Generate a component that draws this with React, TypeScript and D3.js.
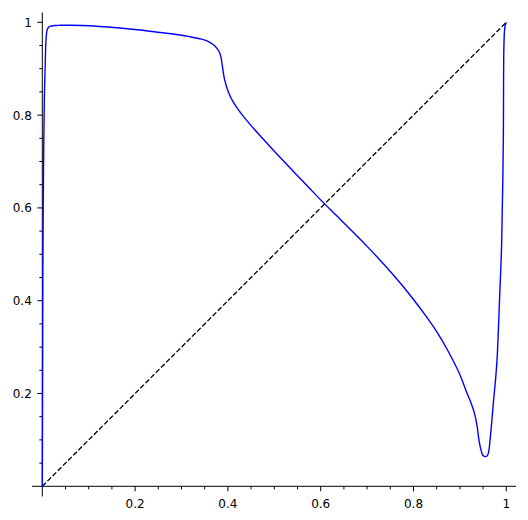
import React from "react";
import * as d3 from "d3";

const curveX = [0, 0.0004, 0.0008, 0.0012, 0.002, 0.003, 0.0045, 0.006, 0.008, 0.0101, 0.0123, 0.0166, 0.0274, 0.038, 0.06, 0.103, 0.124, 0.167, 0.21, 0.254, 0.297, 0.318, 0.34, 0.352, 0.362, 0.372, 0.381, 0.385, 0.388, 0.393, 0.401, 0.411, 0.422, 0.433, 0.45, 0.475, 0.5, 0.525, 0.55, 0.575, 0.6, 0.625, 0.65, 0.675, 0.7, 0.725, 0.75, 0.775, 0.8, 0.825, 0.85, 0.875, 0.9, 0.915, 0.925, 0.932, 0.937, 0.941, 0.945, 0.949, 0.954, 0.959, 0.962, 0.965, 0.969, 0.9727, 0.9767, 0.98, 0.986, 0.99, 0.9935, 0.995, 0.997, 1];
const curveY = [0, 0.15, 0.3, 0.45, 0.6, 0.72, 0.84, 0.9, 0.962, 0.982, 0.9877, 0.991, 0.9931, 0.9935, 0.9935, 0.9925, 0.991, 0.9877, 0.9834, 0.978, 0.9726, 0.969, 0.9645, 0.961, 0.956, 0.949, 0.937, 0.925, 0.906, 0.876, 0.85, 0.829, 0.8125, 0.7977, 0.7773, 0.7495, 0.7222, 0.6955, 0.6692, 0.6432, 0.6173, 0.5923, 0.5676, 0.5426, 0.5171, 0.4906, 0.4631, 0.4338, 0.4026, 0.3693, 0.3331, 0.2906, 0.2406, 0.2015, 0.177, 0.155, 0.13, 0.1, 0.08, 0.0675, 0.064, 0.066, 0.0746, 0.1, 0.143, 0.186, 0.229, 0.272, 0.417, 0.524, 0.74, 0.955, 0.99, 1];
const diagX = [0, 1];
const diagY = [0, 1];
const majorTicks = [0.2, 0.4, 0.6, 0.8, 1];
const majorLabels = ["0.2", "0.4", "0.6", "0.8", "1"];
const minorTicks = [0.05, 0.1, 0.15, 0.25, 0.3, 0.35, 0.45, 0.5, 0.55, 0.65, 0.7, 0.75, 0.85, 0.9, 0.95];
const axisExtent = [-0.022, 1.021];

export default function App() {
  const x = d3.scaleLinear().domain([0, 1]).range([42.3, 506.3]);
  const y = d3.scaleLinear().domain([0, 1]).range([486.3, 22.3]);
  const pts: [number, number][] = curveX.map((v, i) => [v, curveY[i]]);
  const line = d3
    .line<[number, number]>()
    .x((d) => x(d[0]))
    .y((d) => y(d[1]))
    .curve(d3.curveCatmullRom.alpha(0.5));
  const diag: [number, number][] = diagX.map((v, i) => [v, diagY[i]]);
  const lin = d3
    .line<[number, number]>()
    .x((d) => x(d[0]))
    .y((d) => y(d[1]));
  const font = "'DejaVu Sans', sans-serif";
  return (
    <svg
      width={528}
      height={520}
      style={{ position: "absolute", left: 0, top: 0, background: "#fff" }}
    >
      <rect x={0} y={0} width={528} height={520} fill="#fff" />
      <line x1={x(axisExtent[0])} x2={x(axisExtent[1])} y1={y(0)} y2={y(0)} stroke="#000" strokeWidth={1} />
      <line x1={x(0)} x2={x(0)} y1={y(axisExtent[0])} y2={y(axisExtent[1])} stroke="#000" strokeWidth={1} />
      {minorTicks.map((t) => (
        <g key={"m" + t}>
          <line x1={x(t)} x2={x(t)} y1={y(0)} y2={y(0) + 3} stroke="#000" strokeWidth={1} />
          <line x1={x(0) - 3} x2={x(0)} y1={y(t)} y2={y(t)} stroke="#000" strokeWidth={1} />
        </g>
      ))}
      {majorTicks.map((t, i) => (
        <g key={"M" + t}>
          <line x1={x(t)} x2={x(t)} y1={y(0)} y2={y(0) + 5} stroke="#000" strokeWidth={1} />
          <line x1={x(0) - 5} x2={x(0)} y1={y(t)} y2={y(t)} stroke="#000" strokeWidth={1} />
          <text x={x(t)} y={y(0) + 21.5} fontSize={12} fontFamily={font} textAnchor="middle" fill="#000">
            {majorLabels[i]}
          </text>
          <text x={x(0) - 10.5} y={y(t) + 4.4} fontSize={12} fontFamily={font} textAnchor="end" fill="#000">
            {majorLabels[i]}
          </text>
        </g>
      ))}
      <path d={lin(diag) || ""} fill="none" stroke="#000" strokeWidth={1.3} strokeDasharray="5.1 2.2" />
      <path d={line(pts) || ""} fill="none" stroke="#0000ff" strokeWidth={1.4} />
    </svg>
  );
}
